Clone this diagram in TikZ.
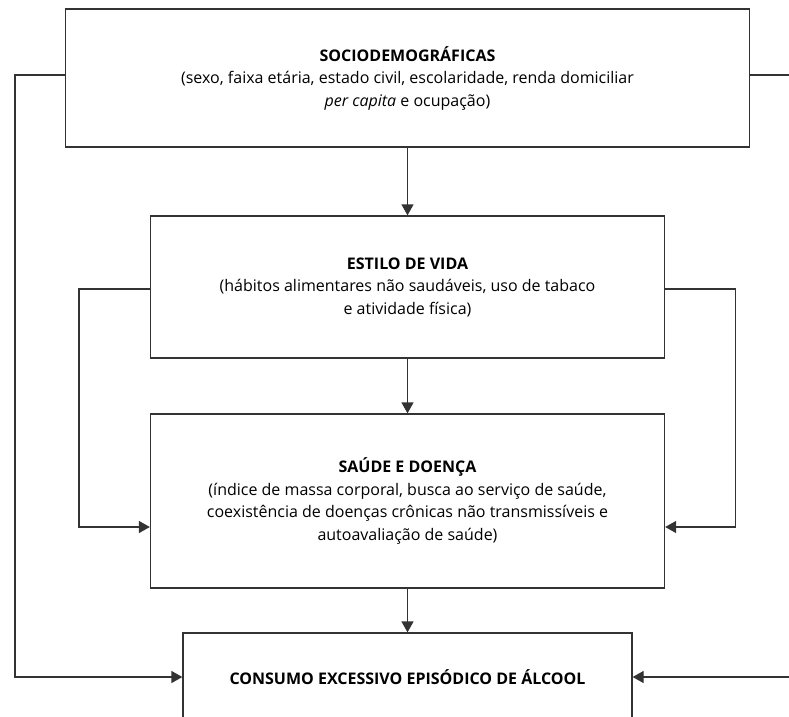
\documentclass[tikz,border=0pt]{standalone}
\usepackage{fontspec}
\setmainfont{Open Sans}
\usetikzlibrary{arrows.meta}
\begin{document}
\begin{tikzpicture}[x=1pt,y=-1pt,
  box/.style={draw=black!80,line width=1.3pt,align=center,inner sep=0pt,
    font=\fontsize{16}{22.5}\selectfont},
  ln/.style={draw=black!80,line width=1.3pt},
  arr/.style={ln,-{Triangle[length=11pt,width=12pt]}}]
\path[use as bounding box] (0,0) rectangle (789,716);
\clip (0,0) rectangle (789,716);
\node[box,minimum width=684pt,minimum height=138pt] (socio) at (407.5,78)
  {\textbf{SOCIODEMOGRÁFICAS}\\(sexo, faixa etária, estado civil, escolaridade, renda domiciliar\\\textit{per capita} e ocupação)};
\node[box,minimum width=514pt,minimum height=142pt] (estilo) at (407.5,287)
  {\textbf{ESTILO DE VIDA}\\(hábitos alimentares não saudáveis, uso de tabaco\\e atividade física)};
\node[box,minimum width=514pt,minimum height=174pt] (saude) at (407.5,501)
  {\textbf{SAÚDE E DOENÇA}\\(índice de massa corporal, busca ao serviço de saúde,\\coexistência de doenças crônicas não transmissíveis e\\autoavaliação de saúde)};
\node[box,minimum width=449pt,minimum height=88pt] (consumo) at (407.5,677)
  {\textbf{CONSUMO EXCESSIVO EPISÓDICO DE ÁLCOOL}};
\coordinate (L) at (15,75);
\coordinate (Rtop) at (795,75);
\coordinate (Rbot) at (795,677);
\draw[arr] (socio.south) -- (estilo.north);
\draw[arr] (estilo.south) -- (saude.north);
\draw[arr] (saude.south) -- (consumo.north);
\draw[ln] ([yshift=3pt]socio.east) -- (Rtop);
\draw[arr] ([yshift=3pt]socio.west) -- (L) |- (consumo.west);
\draw[arr] (Rbot) -- (consumo.east);
\draw[arr] ([yshift=-2pt]estilo.west) -- ++(-71,0) |- ([yshift=-26pt]saude.west);
\draw[arr] ([yshift=-2pt]estilo.east) -- ++(70,0) |- ([yshift=-26pt]saude.east);
\end{tikzpicture}
\end{document}
